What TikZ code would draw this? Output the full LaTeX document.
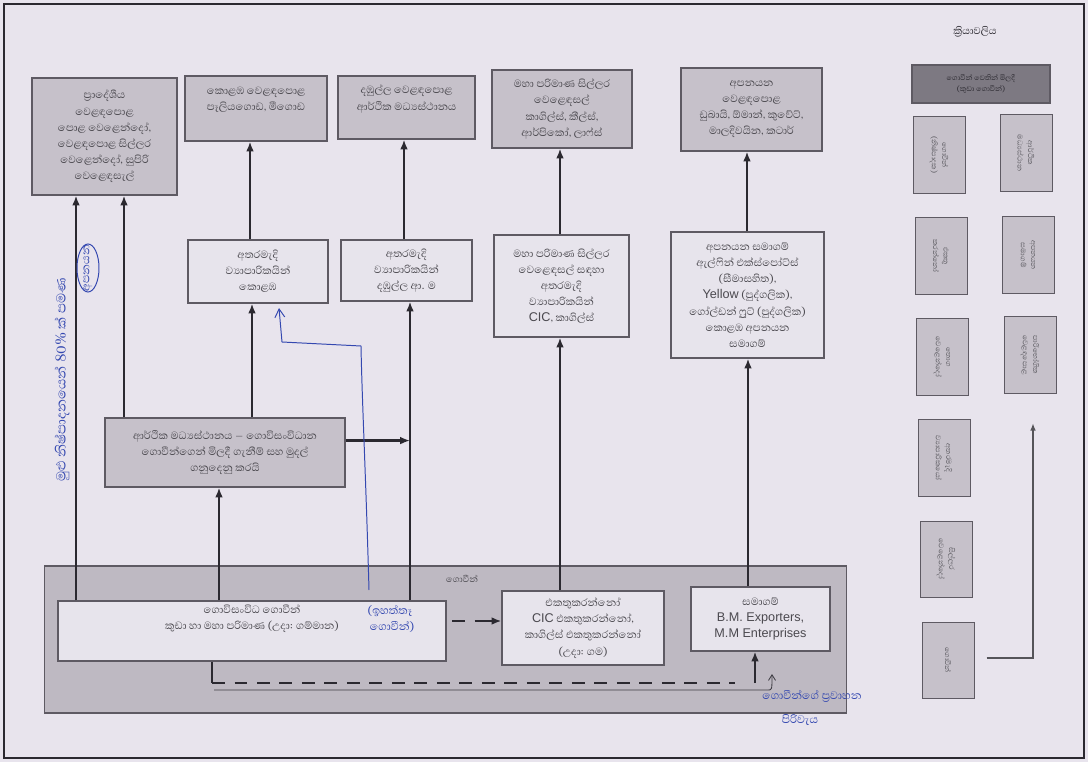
\documentclass[tikz,border=0pt]{standalone}
\usepackage{fontspec}
\setmainfont[Script=Sinhala]{Abhaya Libre}
\newfontfamily\lat{Liberation Sans}
\usetikzlibrary{arrows.meta,calc}
\definecolor{paper}{HTML}{E8E4ED}
\definecolor{boxdark}{HTML}{C6C1CA}
\definecolor{boxlight}{HTML}{E7E4EC}
\definecolor{bandgray}{HTML}{BEB9C2}
\definecolor{edge}{HTML}{5E5A63}
\definecolor{ink}{HTML}{2B2930}
\definecolor{pen}{HTML}{3448B0}
\begin{document}
\begin{tikzpicture}[x=0.025cm,y=-0.025cm,
  boxfont/.style={font=\fontsize{9.5}{11.5}\selectfont,text=ink!85},
  boxbase/.style={draw=edge,line width=0.8pt,align=center,inner sep=2pt,boxfont},
  darkbox/.style={boxbase,fill=boxdark},
  lightbox/.style={boxbase,fill=boxlight},
  legbox/.style={draw=edge,line width=0.7pt,fill=boxdark,
    minimum width=1.3cm,minimum height=1.9cm,inner sep=1pt},
  legtext/.style={rotate=-90,font=\fontsize{6.5}{7.5}\selectfont,text=ink!80,align=center},
  flow/.style={draw=ink,line width=1.7pt,-{Latex[length=7pt,width=5.5pt]}},
  plain/.style={draw=ink,line width=1.7pt},
  dashflow/.style={draw=ink,line width=1.7pt,dash pattern=on 9pt off 7pt},
  penline/.style={draw=pen,line width=0.7pt},
  hand/.style={text=pen,font=\fontsize{10}{11}\selectfont}]
% paper and frame
\fill[paper] (0,0) rectangle (1088,762);
\draw[ink,line width=1.4pt] (4,4) rectangle (1084,758);
% helper columns
\foreach \n/\x in {c76/76,c124/124,c219/219,c212/212,c250/250,c252/252,
  c404/404,c410/410,c560/560,c747/747,c748/748,c755/755}
  \coordinate (\n) at (\x,0);

% top row: markets
\node[darkbox,minimum width=3.625cm,minimum height=2.925cm] (T1) at (104.5,136.5)
  {ප්‍රාදේශීය\\වෙළඳපොළ\\පොළ වෙළෙන්දෝ,\\වෙළඳපොළ සිල්ලර\\වෙළෙන්දෝ, සුපිරි\\වෙළෙඳසැල්};
\node[darkbox,minimum width=3.55cm,minimum height=1.625cm] (T2) at (256,108.5) {};
\node[align=center,boxfont] (T2t) at (256,100)
  {කොළඹ වෙළඳපොළ\\පෑලියගොඩ, මීගොඩ};
\node[darkbox,minimum width=3.425cm,minimum height=1.575cm] (T3) at (406.5,107.5) {};
\node[align=center,boxfont] (T3t) at (406.5,99)
  {දඹුල්ල වෙළඳපොළ\\ආර්ථික මධ්‍යස්ථානය};
\node[darkbox,minimum width=3.5cm,minimum height=1.95cm] (T4) at (562,109)
  {මහා පරිමාණ සිල්ලර\\වෙළෙඳසල්\\කාගිල්ස්, කීල්ස්,\\ආර්පිකෝ, ලාෆ්ස්};
\node[darkbox,minimum width=3.525cm,minimum height=2.075cm] (T5) at (751.5,109.5)
  {අපනයන\\වෙළඳපොළ\\ඩුබායි, ඕමාන්, කුවේට්,\\මාලදිවයින, කටාර්};

% middle row: intermediaries
\node[lightbox,minimum width=3.5cm,minimum height=1.575cm] (M1) at (258,271.5)
  {අතරමැදි\\ව්‍යාපාරිකයින්\\කොළඹ};
\node[lightbox,minimum width=3.275cm,minimum height=1.525cm] (M2) at (406.5,270.5)
  {අතරමැදි\\ව්‍යාපාරිකයින්\\දඹුල්ල ආ. ම};
\node[lightbox,minimum width=3.375cm,minimum height=2.55cm] (M3) at (561.5,286)
  {මහා පරිමාණ සිල්ලර\\වෙළෙඳසල් සඳහා\\අතරමැදි\\ව්‍යාපාරිකයින්\\{\lat\small CIC}, කාගිල්ස්};
\node[lightbox,minimum width=3.825cm,minimum height=3.15cm] (M4) at (747.5,295)
  {අපනයන සමාගම්\\ඇල්ෆින් එක්ස්පෝට්ස්\\(සීමාසහිත),\\{\lat\small Yellow} (පුද්ගලික),\\ගෝල්ඩන් ෆ්‍රුට් (පුද්ගලික)\\කොළඹ අපනයන\\සමාගම්};

% economic centre box
\node[darkbox,minimum width=6cm,minimum height=1.725cm] (L) at (225,452.5)
  {ආර්ථික මධ්‍යස්ථානය -- ගොවිසංවිධාන\\ගොවීන්ගෙන් මිලදී ගැනීම් සහ මුදල්\\ගනුදෙනු කරයි};

% farmers band
\node[draw=edge,line width=0.8pt,fill=bandgray,minimum width=20.025cm,
  minimum height=3.675cm] (band) at (445.5,639.5) {};
\node[font=\fontsize{8}{9}\selectfont,text=ink!85] (bandt) at (462,579) {ගොවීන්};
\node[lightbox,minimum width=9.7cm,minimum height=1.5cm] (B1) at (252,631) {};
\node[align=center,boxfont] (B1t) at (252,619)
  {ගොවිසංවිධ ගොවීන්\\කුඩා හා මහා පරිමාණ (උදා: ගම්මාන)};
\node[lightbox,minimum width=4.05cm,minimum height=1.85cm] (B2) at (583,628)
  {එකතුකරන්නෝ\\{\lat\small CIC} එකතුකරන්නෝ,\\කාගිල්ස් එකතුකරන්නෝ\\(උදා: ගම)};
\node[lightbox,minimum width=3.475cm,minimum height=1.6cm] (B3) at (760.5,619)
  {සමාගම්\\{\lat\small B.M. Exporters,}\\{\lat\small M.M Enterprises}};

% product flows
\draw[flow] (B1.north -| c76) -- (T1.south -| c76);
\draw[flow] (L.north -| c124) -- (T1.south -| c124);
\draw[flow] (L.north -| c252) -- (M1.south -| c252);
\draw[flow] (M1.north -| c250) -- (T2.south -| c250);
\draw[flow] (B1.north -| c219) -- (L.south -| c219);
\draw[flow] (B1.north -| c410) -- (M2.south -| c410);
\draw[flow] (M2.north -| c404) -- (T3.south -| c404);
\coordinate (Le) at ($(L.north east)!0.33!(L.south east)$);
\draw[flow] (Le) -- (Le -| c410);
\draw[flow] (B2.north -| c560) -- (M3.south -| c560);
\draw[flow] (M3.north -| c560) -- (T4.south -| c560);
\draw[flow] (B3.north -| c748) -- (M4.south -| c748);
\draw[flow] (M4.north -| c747) -- (T5.south -| c747);

% dashed routes
\coordinate (d1) at (452,621);
\draw[dashflow] (d1) -- ($(B2.west)+(-12,-7)$);
\draw[flow] ($(B2.west)+(-14,-7)$) -- ($(B2.west)+(0,-7)$);
\coordinate (k1) at (212,683);
\coordinate (k2) at (755,683);
\draw[plain] (B1.south -| c212) -- (k1);
\draw[dashflow] (k1) -- ($(k2)+(-20,0)$);
\draw[flow] (k2) -- (B3.south -| c755);

% legend
\node[font=\fontsize{9}{10}\selectfont,text=ink] (legt) at (975,32) {ක්‍රියාවලිය};
\node[draw=edge,line width=0.8pt,fill=edge!70!boxdark,minimum width=3.45cm,
  minimum height=0.95cm,align=center,font=\fontsize{6.5}{7.5}\selectfont,
  text=ink] (leg0) at (981,84) {ගොවීන් වෙතින් මිලදී\\(කුඩා ගොවීන්)};
\node[legbox,label={[legtext]center:ගොවීන්\\(නිෂ්පාදක)}] (lg1) at (939,155) {};
\node[legbox,label={[legtext]center:එකතු\\කරන්නෝ}] (lg2) at (941,256) {};
\node[legbox,label={[legtext]center:තොග\\වෙළෙන්දෝ}] (lg3) at (942,357) {};
\node[legbox,label={[legtext]center:අතරමැදි\\ව්‍යාපාරිකයෝ}] (lg4) at (944,458) {};
\node[legbox,label={[legtext]center:සිල්ලර\\වෙළෙන්දෝ}] (lg5) at (946,559) {};
\node[legbox,label={[legtext]center:ගොවීන්}] (lg6) at (948,660) {};
\node[legbox,label={[legtext]center:ආර්ථික\\මධ්‍යස්ථාන}] (lg7) at (1026,153) {};
\node[legbox,label={[legtext]center:අපනයන\\සමාගම්}] (lg8) at (1028,255) {};
\node[legbox,label={[legtext]center:පාරිභෝගික\\වෙළඳපොළ}] (lg9) at (1030,355) {};
\coordinate (lgc) at (1033,658);
\draw[draw=ink!80,line width=0.8pt,-{Latex[length=5pt,width=4pt]}]
  ($(lg6.east)+(12,-2)$) -- (lgc) -- ($(lg9.south)+(3,30)$);

% handwritten notes in pen
\draw[penline,-{Straight Barb[length=6pt,width=7pt]}]
  (369,590) .. controls (366,480) and (362,400) .. (361,346)
  -- (282,342) -- (279,308);
\node[hand] (h1) at (390,611) {(ඉහත්තෑ};
\node[hand] (h2) at (392,627) {ගොවීන්)};
\node[hand,rotate=90,font=\fontsize{12}{13}\selectfont] (h3) at (62,380) {මුළු නිෂ්පාදනයෙන් 80\% ක් පමණ};
\node[hand,rotate=90] (h4) at (88,268) {අපනයන};
\draw[penline] (88,268) ellipse (11 and 24);
\draw[draw=ink!90,line width=0.6pt,-{Straight Barb[length=4pt,width=5pt]}]
  (214,690) -- (768,690) .. controls (772,690) .. (772,674);
\node[hand] (h5) at (812,696) {ගොවීන්ගේ ප්‍රවාහන};
\node[hand] (h6) at (800,720) {පිරිවැය};
\end{tikzpicture}
\end{document}
